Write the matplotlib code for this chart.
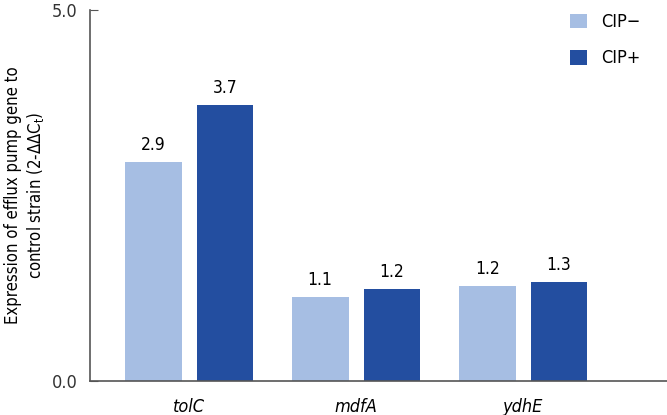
import matplotlib.pyplot as plt
import numpy as np

genes = ['tolC', 'mdfA', 'ydhE']
cip_minus = [2.95, 1.13, 1.28]
cip_plus = [3.72, 1.24, 1.33]
minus_labels = ['2.9', '1.1', '1.2']
plus_labels = ['3.7', '1.2', '1.3']

plt.rcParams['font.family'] = ['DejaVu Sans']
plt.rcParams['font.stretch'] = 'condensed'

fig = plt.figure(figsize=(6.67, 4.15), dpi=100)
ax = fig.add_axes([0.135, 0.082, 0.865, 0.894])

x = np.arange(len(genes))
w = 0.34
off = 0.215
b1 = ax.bar(x - off, cip_minus, w, color='#a6bee3', label='CIP\u2212')
b2 = ax.bar(x + off, cip_plus, w, color='#234ea0', label='CIP+')

for rect, lab in zip(b1, minus_labels):
    ax.annotate(lab, (rect.get_x() + rect.get_width() / 2, rect.get_height()),
                xytext=(0, 6), textcoords='offset points', ha='center', va='bottom', fontsize=12.5)
for rect, lab in zip(b2, plus_labels):
    ax.annotate(lab, (rect.get_x() + rect.get_width() / 2, rect.get_height()),
                xytext=(0, 6), textcoords='offset points', ha='center', va='bottom', fontsize=12.5)

ax.set_xlim(-0.593, 2.862)
ax.set_ylim(0, 5)
ax.set_yticks([0, 5])
ax.set_yticklabels(['0.0', '5.0'], fontsize=13, color='#333333')
ax.set_xticks(x)
ax.set_xticklabels(genes, fontsize=13, style='italic')
ax.tick_params(axis='x', length=0, pad=12)
ax.tick_params(axis='y', direction='in', length=6, color='#555555', pad=9)

for s in ['top', 'right']:
    ax.spines[s].set_visible(False)
for s in ['left', 'bottom']:
    ax.spines[s].set_color('#555555')
    ax.spines[s].set_linewidth(1.2)

ax.set_ylabel('Expression of efflux pump gene to\ncontrol strain (2-\u0394\u0394C$_\\mathrm{t}$)', fontsize=12, labelpad=4)

ax.legend(loc='upper right', frameon=False, fontsize=13, handlelength=0.9, handleheight=0.9,
          labelspacing=1.0, bbox_to_anchor=(0.982, 1.035))

plt.savefig('out.png', dpi=100)
